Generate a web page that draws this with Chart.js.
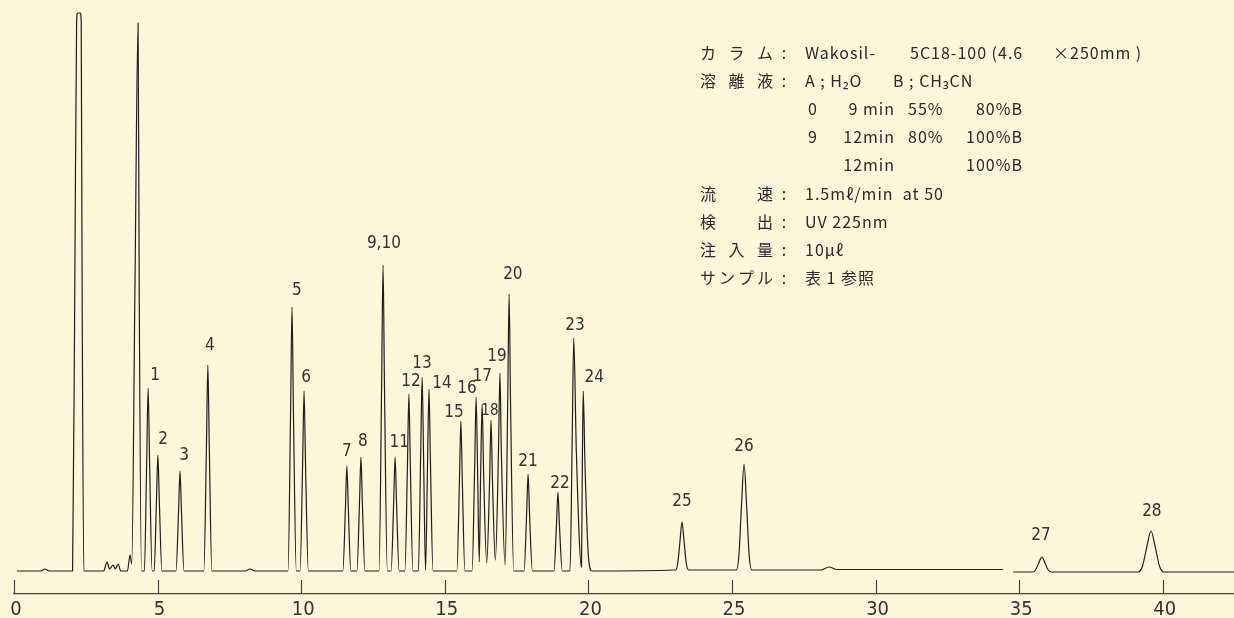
<!DOCTYPE html>
<html lang="ja">
<head>
<meta charset="utf-8">
<title>Chromatogram</title>
<script src="https://cdn.jsdelivr.net/npm/chart.js@4.4.1/dist/chart.umd.min.js"></script>
<style>
  html, body { margin: 0; padding: 0; background: #FBF7DA; }
  #chart { display: block; background: #FBF7DA; }
</style>
</head>
<body>
<canvas id="chart" width="1234" height="618"></canvas>
<script>
// retention time (min) and detector signal
const traceTime = [
  0.10, 0.93, 1.08, 1.23,
  2.04, 2.12, 2.18, 2.21, 2.31, 2.34, 2.37, 2.43,
  3.12, 3.24, 3.33, 3.45, 3.53, 3.62, 3.72,
  3.95, 4.04, 4.10, 4.21, 4.32, 4.36, 4.44,
  4.54, 4.62, 4.67, 4.72, 4.81,
  4.88, 4.96, 5.01, 5.06, 5.15,
  5.64, 5.73, 5.78, 5.83, 5.92,
  6.61, 6.70, 6.75, 6.80, 6.89,
  8.05, 8.22, 8.39,
  9.54, 9.63, 9.68, 9.73, 9.83,
  9.96, 10.05, 10.10, 10.15, 10.25,
  11.45, 11.54, 11.59, 11.64, 11.73,
  11.94, 12.03, 12.08, 12.13, 12.22,
  12.71, 12.80, 12.85, 12.90, 13.00,
  13.13, 13.22, 13.27, 13.32, 13.41,
  13.61, 13.70, 13.75, 13.80, 13.89,
  14.08, 14.16, 14.21, 14.26, 14.33,
  14.40, 14.45, 14.50, 14.59,
  15.42, 15.51, 15.56, 15.61, 15.70,
  15.95, 16.04, 16.09, 16.14, 16.20,
  16.25, 16.30, 16.35, 16.46,
  16.56, 16.61, 16.66, 16.76,
  16.87, 16.92, 16.97, 17.10,
  17.19, 17.24, 17.29, 17.40,
  17.76, 17.85, 17.90, 17.95, 18.05,
  18.80, 18.89, 18.94, 18.99, 19.09,
  19.36, 19.44, 19.49, 19.58, 19.76,
  19.79, 19.82, 19.88, 20.00, 20.12,
  23.04, 23.11, 23.19, 23.26, 23.33, 23.41, 23.49,
  25.15, 25.24, 25.33, 25.42, 25.51, 25.60, 25.69,
  28.10, 28.38, 28.65,
  34.44, 34.60, 34.79,
  35.46, 35.57, 35.68, 35.79, 35.90, 36.01, 36.12,
  39.14, 39.29, 39.44, 39.59, 39.74, 39.89, 40.04,
  42.48
];
const traceSignal = [
  0, 0, 2, 0,
  0, 300, 548, 558, 558, 548, 300, 0,
  0, 9, 2, 6, 2, 7, 0,
  0, 16, 7, 280, 548, 280, 0,
  0, 110, 183, 110, 0,
  0, 70, 116, 70, 0,
  0, 60, 100, 60, 0,
  0, 124, 206, 124, 0,
  0, 2, 0,
  0, 158, 264, 158, 0,
  0, 108, 180, 108, 0,
  0, 63, 105, 63, 0,
  0, 68, 114, 68, 0,
  0, 184, 306, 184, 0,
  0, 68, 114, 68, 0,
  0, 106, 177, 106, 0,
  0, 116, 194, 116, 1,
  109, 182, 109, 0,
  0, 90, 150, 90, 0,
  0, 104, 174, 104, 9,
  100, 167, 100, 8,
  90, 151, 90, 11,
  119, 198, 119, 6,
  166, 277, 166, 0,
  0, 58, 97, 58, 0,
  0, 47, 79, 47, 0,
  0, 140, 233, 120, 4,
  108, 180, 108, 15, 0,
  1, 7.5, 30, 49, 30, 7.5, 1,
  1, 15, 65, 107, 65, 15, 1,
  1, 4, 1.5,
  1.5, null, -1,
  -1, 1, 8, 14, 8, 1, -1,
  -1, 4.5, 23.6, 40, 23.6, 4.5, -1,
  -1
];

const timeTicks = [0, 5, 10, 15, 20, 25, 30, 35, 40];

// peak numbers and where their labels sit (time, signal)
const peakNames = ['1', '2', '3', '4', '5', '6', '7', '8', '9,10', '11', '12', '13', '14',
  '15', '16', '17', '18', '19', '20', '21', '22', '23', '24', '25', '26', '27', '28'];
const peakLabelTime = [4.91, 5.19, 5.92, 6.82, 9.85, 10.17, 11.59, 12.15, 12.88, 13.41, 13.82, 14.21, 14.90,
  15.32, 15.77, 16.30, 16.57, 16.82, 17.37, 17.90, 19.01, 19.53, 20.20, 23.26, 25.42, 35.76, 39.62];
const peakLabelSignal = [195, 131, 115, 225, 280, 193, 119, 129, 327, 128, 189, 207, 187,
  158, 182, 194, 160, 214, 296, 109, 87, 245, 193, 69, 124, 35, 59];

// analysis conditions
const condLabels = ['カラム', '溶離液', '', '', '', '流速', '検出', '注入量', 'サンプル'];
const condValues = [
  ['Wakosil-', '5C18-100 (4.6', '×250mm )'],
  ['A ; H₂O', 'B ; CH₃CN'],
  ['0', '9 min', '55%', '80%B'],
  ['9', '12min', '80%', '100%B'],
  ['', '12min', '', '100%B'],
  ['1.5mℓ/min  at 50'],
  ['UV 225nm'],
  ['10μℓ'],
  ['表 1 参照']
];

const NARROW = "'Liberation Sans Narrow', 'DejaVu Sans Condensed', 'Liberation Sans', sans-serif";
const JP = "'Noto Sans CJK JP', 'Noto Sans', sans-serif";

const points = traceTime.map((t, i) => ({ x: t, y: traceSignal[i] }));

// short ticks pointing up from the time axis
const upTicks = {
  id: 'upTicks',
  afterDraw(chart) {
    const { ctx, scales: { x }, chartArea } = chart;
    ctx.save();
    ctx.strokeStyle = '#444';
    ctx.lineWidth = 1.2;
    x.ticks.forEach(tk => {
      const px = Math.round(x.getPixelForValue(tk.value)) + 0.5;
      ctx.beginPath();
      ctx.moveTo(px, chartArea.bottom);
      ctx.lineTo(px, chartArea.bottom - 14);
      ctx.stroke();
    });
    ctx.restore();
  }
};

const peakLabels = {
  id: 'peakLabels',
  afterDatasetsDraw(chart) {
    const { ctx, scales: { x, y } } = chart;
    ctx.save();
    ctx.fillStyle = '#333';
    ctx.textAlign = 'center';
    ctx.textBaseline = 'middle';
    peakNames.forEach((name, i) => {
      ctx.font = (name === '18' ? '15px ' : '17px ') + NARROW;
      ctx.fillText(name, x.getPixelForValue(peakLabelTime[i]), y.getPixelForValue(peakLabelSignal[i]));
    });
    ctx.restore();
  }
};

const conditions = {
  id: 'conditions',
  afterDraw(chart) {
    const ctx = chart.ctx;
    const cols = [
      [[805, 'left'], [910, 'left'], [1053, 'left']],
      [[805, 'left'], [893, 'left']],
      [[808, 'left'], [895, 'right'], [908, 'left'], [1023, 'right']],
      [[808, 'left'], [895, 'right'], [908, 'left'], [1023, 'right']],
      [[808, 'left'], [895, 'right'], [908, 'left'], [1023, 'right']],
      [[805, 'left']], [[805, 'left']], [[805, 'left']], [[805, 'left']]
    ];
    ctx.save();
    ctx.fillStyle = '#2a2a2a';
    ctx.textBaseline = 'middle';
    ctx.font = '16px ' + JP;
    condLabels.forEach((lab, r) => {
      const yy = 53 + r * 28.1;
      if (lab) {
        // spread the label characters between x=700 and x=773
        const chars = Array.from(lab);
        const widths = chars.map(c => ctx.measureText(c).width);
        const total = widths.reduce((a, b) => a + b, 0);
        const gap = (73 - total) / (chars.length - 1);
        let cx = 700;
        ctx.textAlign = 'left';
        chars.forEach((c, k) => { ctx.fillText(c, cx, yy); cx += widths[k] + gap; });
        ctx.textAlign = 'center';
        ctx.fillText(':', 784, yy);
      }
      ctx.letterSpacing = '1px';
      condValues[r].forEach((txt, k) => {
        if (!txt) return;
        ctx.textAlign = cols[r][k][1];
        ctx.fillText(txt, cols[r][k][0], yy);
      });
      ctx.letterSpacing = '0px';
    });
    ctx.restore();
  }
};

new Chart(document.getElementById('chart'), {
  type: 'line',
  data: {
    datasets: [{
      data: points,
      borderColor: '#1e1e1e',
      borderWidth: 1.2,
      pointRadius: 0,
      cubicInterpolationMode: 'monotone',
      spanGaps: false,
      fill: false
    }]
  },
  options: {
    responsive: false,
    animation: false,
    layout: { padding: { left: 14, right: 0, top: 0, bottom: 0 } },
    plugins: { legend: { display: false }, tooltip: { enabled: false } },
    scales: {
      x: {
        type: 'linear',
        min: 0,
        max: 42.48,
        afterBuildTicks: scale => { scale.ticks = timeTicks.map(v => ({ value: v })); },
        afterFit: scale => { scale.height = 24; },
        grid: { display: true, drawOnChartArea: false, drawTicks: false },
        border: { display: true, color: '#444', width: 1.2 },
        ticks: {
          padding: 6,
          labelOffset: 2,
          maxRotation: 0,
          autoSkip: false,
          color: '#333',
          font: { family: NARROW, size: 20, lineHeight: 1 }
        }
      },
      y: { display: false, min: -23, max: 571 }
    }
  },
  plugins: [upTicks, peakLabels, conditions]
});
</script>
</body>
</html>
